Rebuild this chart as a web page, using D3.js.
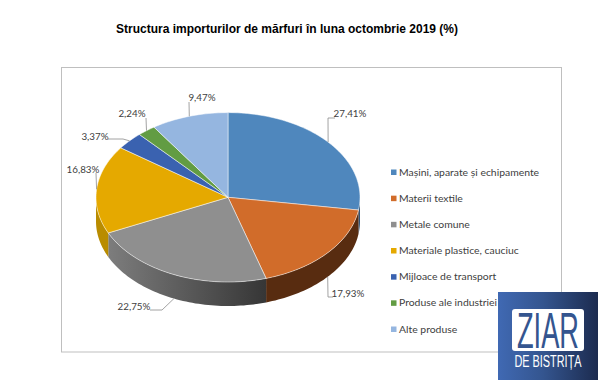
<!DOCTYPE html>
<html lang="ro">
<head>
<meta charset="utf-8">
<script src="https://cdn.jsdelivr.net/npm/d3@7/dist/d3.min.js"></script>
<style>
	html, body { margin: 0; padding: 0; background: #fff; overflow: hidden; }
	svg { display: block; }
	.lbl { font-family: Lato, "Open Sans", sans-serif; font-size: 10.4px; fill: #404040; }
	.val { font-size: 9.8px; }
	.leader { fill: none; stroke: #8c8c8c; stroke-width: 0.8; }
</style>
</head>
<body>
<div id="chart"></div>
<script>
const titleText = "Structura importurilor de mărfuri în luna octombrie 2019 (%)";
const categories = ["Mașini, aparate și echipamente", "Materii textile", "Metale comune", "Materiale plastice, cauciuc", "Mijloace de transport", "Produse ale industriei", "Alte produse"];
const values = [27.41, 17.93, 22.75, 16.83, 3.37, 2.24, 9.47];
const valueLabels = ["27,41%", "17,93%", "22,75%", "16,83%", "3,37%", "2,24%", "9,47%"];
const topColors = ["#4f87bd", "#d16c2a", "#8f8f8f", "#e5a900", "#3a62b0", "#629c43", "#95b6e0"];
const sideColors = ["#2f5375", "#582c10", "url(#greySide)", "#b98c00", "#2a4a85", "#4a7532", "#6f8fb5"];

// label anchor (text centre) and leader elbow, relative to the chart window
const labelLayout = [
	{ x: 350, y: 114, elbow: [[328, 118], [335, 118]], onSide: false },
	{ x: 348, y: 294, elbow: [[328, 297], [333, 297]], onSide: true },
	{ x: 134, y: 307, elbow: [[162, 310], [150, 310]], onSide: true },
	{ x: 83, y: 170, elbow: [[96, 173]], onSide: false },
	{ x: 95, y: 137, elbow: [[123, 139], [108, 139]], onSide: false },
	{ x: 132, y: 114, elbow: [[146, 118]], onSide: false },
	{ x: 202, y: 98, elbow: [[189, 102]], onSide: false }
];

const width = 598, height = 386;
const cx = 228, cy = 197.3, rx = 132, ry = 84.7, depth = 24;

const svg = d3.select("#chart").append("svg")
	.attr("width", width)
	.attr("height", height);

const defs = svg.append("defs");

const greySide = defs.append("linearGradient")
	.attr("id", "greySide")
	.attr("gradientUnits", "userSpaceOnUse")
	.attr("x1", 108).attr("x2", 266).attr("y1", 0).attr("y2", 0);
greySide.append("stop").attr("offset", "0%").attr("stop-color", "#7d7d7d");
greySide.append("stop").attr("offset", "100%").attr("stop-color", "#363636");

const logoFill = defs.append("linearGradient").attr("id", "logoFill");
logoFill.append("stop").attr("offset", "0%").attr("stop-color", "#4069b3");
logoFill.append("stop").attr("offset", "45%").attr("stop-color", "#34558f");
logoFill.append("stop").attr("offset", "100%").attr("stop-color", "#1c2b4f");

// Title
svg.append("text")
	.attr("x", 287)
	.attr("y", 33)
	.attr("text-anchor", "middle")
	.attr("font-family", "'Liberation Sans', Arial, sans-serif")
	.attr("font-weight", "bold")
	.attr("font-size", 13)
	.attr("textLength", 342)
	.attr("lengthAdjust", "spacingAndGlyphs")
	.attr("fill", "#000")
	.text(titleText);

// Chart frame
svg.append("rect")
	.attr("x", 61.5).attr("y", 67.5)
	.attr("width", 500).attr("height", 284.5)
	.attr("fill", "#fff")
	.attr("stroke", "#bfbfbf");

// Pie angles
const slices = d3.pie().sort(null)(values);

const px = a => cx + rx * Math.sin(a);
const py = a => cy - ry * Math.cos(a);

const arcPoints = (a0, a1) => {
	let n = Math.max(2, Math.ceil(Math.abs(a1 - a0) * 40));
	return d3.range(n + 1).map(i => a0 + (a1 - a0) * i / n);
};
const line = d3.line();

// Side walls, only the front half of the ellipse shows
const frontStart = Math.PI / 2, frontEnd = Math.PI * 1.5;
svg.append("g").selectAll("path")
	.data(slices.filter(d => d.endAngle > frontStart && d.startAngle < frontEnd))
	.join("path")
	.attr("d", d => {
		let pts = arcPoints(Math.max(d.startAngle, frontStart), Math.min(d.endAngle, frontEnd));
		let upper = pts.map(a => [px(a), py(a)]);
		let lower = pts.slice().reverse().map(a => [px(a), py(a) + depth]);
		return line(upper.concat(lower)) + "Z";
	})
	.attr("fill", d => sideColors[d.index]);

// Top face
svg.append("g").selectAll("path")
	.data(slices)
	.join("path")
	.attr("d", d => {
		let pts = arcPoints(d.startAngle, d.endAngle).map(a => [px(a), py(a)]);
		return line([[cx, cy]].concat(pts)) + "Z";
	})
	.attr("fill", d => topColors[d.index])
	.attr("stroke", "#fff")
	.attr("stroke-opacity", 0.7)
	.attr("stroke-width", 0.7)
	.attr("stroke-linejoin", "round");

// Leaders and value labels
const labels = svg.append("g");
slices.forEach((d, i) => {
	let mid = (d.startAngle + d.endAngle) / 2;
	let layout = labelLayout[i];
	let start = [px(mid), py(mid) + (layout.onSide ? depth : 0)];
	labels.append("path")
		.attr("class", "leader")
		.attr("d", line([start].concat(layout.elbow)));
	labels.append("text")
		.attr("class", "lbl val")
		.attr("x", layout.x)
		.attr("y", layout.y)
		.attr("dy", "0.35em")
		.attr("text-anchor", "middle")
		.text(valueLabels[i]);
});

// Legend
const legendY = d3.scalePoint()
	.domain(categories)
	.range([172, 329]);

const legend = svg.append("g").selectAll("g")
	.data(categories)
	.join("g")
	.attr("transform", d => "translate(391," + legendY(d) + ")");

legend.append("rect")
	.attr("x", 0).attr("y", -2.5)
	.attr("width", 5.5).attr("height", 5.5)
	.attr("fill", (d, i) => topColors[i]);

legend.append("text")
	.attr("class", "lbl")
	.attr("x", 8)
	.attr("dy", "0.35em")
	.text(d => d);

// Logo in the corner, covers the frame
const logo = svg.append("g").attr("transform", "translate(498,292)");
logo.append("rect")
	.attr("width", 100).attr("height", 88)
	.attr("fill", "url(#logoFill)");
logo.append("rect")
	.attr("x", 14).attr("y", 17)
	.attr("width", 72).attr("height", 42)
	.attr("rx", 3)
	.attr("fill", "#fff");
logo.append("text")
	.attr("transform", "translate(50,56) scale(0.545,1)")
	.attr("text-anchor", "middle")
	.attr("font-family", "'Liberation Sans', Arial, sans-serif")
	.attr("font-size", 50)
	.attr("fill", "#34558f")
	.text("ZIAR");
logo.append("text")
	.attr("transform", "translate(50,74.5) scale(0.68,1)")
	.attr("text-anchor", "middle")
	.attr("font-family", "'Liberation Sans', Arial, sans-serif")
	.attr("font-size", 16)
	.attr("fill", "#fff")
	.text("DE BISTRIȚA");
</script>
</body>
</html>
